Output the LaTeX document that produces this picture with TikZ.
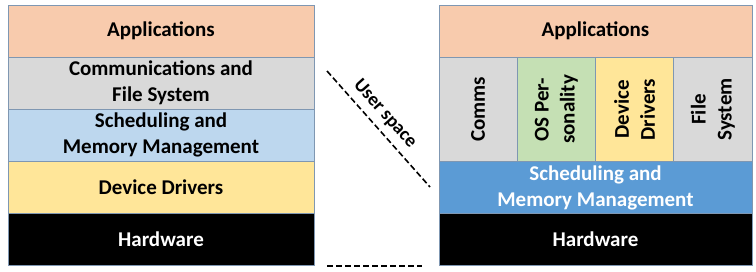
\documentclass[tikz,border=0pt]{standalone}
\usepackage{fontspec}
\setmainfont{Carlito}

\definecolor{edge}{HTML}{7F97B2}
\definecolor{apps}{HTML}{F8CBAD}
\definecolor{comms}{HTML}{D9D9D9}
\definecolor{sched}{HTML}{BDD7EE}
\definecolor{schedk}{HTML}{5B9BD5}
\definecolor{drivers}{HTML}{FFE699}
\definecolor{perso}{HTML}{C5E0B4}

\begin{document}
\begin{tikzpicture}[x=1pt, y=-1pt]
	\tikzstyle{every node}=[inner sep=1pt, align=center, font=\fontsize{21}{26}\selectfont\bfseries]
	\tikzstyle{layer}=[draw=edge, line width=0.8pt, minimum height=52pt]
	\tikzstyle{cell}=[layer, rotate=90, minimum width=105pt, minimum height=78.25pt]
	\tikzstyle{userline}=[dashed, line width=1.6pt, dash pattern=on 6pt off 3pt]
	\useasboundingbox (0,0) rectangle (756,271);

	% monolithic stack
	\node[layer, fill=apps, minimum width=306pt] (appsL) at (161, 31) {Applications};
	\node[layer, fill=comms, minimum width=306pt] (commsL) at (161, 83) {Communications and\\File System};
	\node[layer, fill=sched, minimum width=306pt] (schedL) at (161, 135) {Scheduling and\\Memory Management};
	\node[layer, fill=drivers, minimum width=306pt] (drvL) at (161, 187) {Device Drivers};
	\node[layer, fill=black, text=white, minimum width=306pt] (hwL) at (161, 239) {Hardware};

	% microkernel stack
	\node[layer, fill=apps, minimum width=313pt] (appsR) at (595.5, 31) {Applications};
	\node[cell, fill=comms] (comms) at (478.1, 109.5) {Comms};
	\node[cell, fill=perso] (perso) at (556.4, 109.5) {OS Per-\\sonality};
	\node[cell, fill=drivers] (drv) at (634.6, 109.5) {Device\\Drivers};
	\node[cell, fill=comms] (fs) at (712.9, 109.5) {File\\System};
	\node[layer, fill=schedk, text=white, minimum width=313pt] (schedR) at (595.5, 187.5) {Scheduling and\\Memory Management};
	\node[layer, fill=black, text=white, minimum width=313pt] (hwR) at (595.5, 239.5) {Hardware};

	% user / kernel boundary
	\coordinate (us1) at (327, 71);
	\coordinate (us2) at (430, 187);
	\coordinate (ks1) at (327, 266);
	\coordinate (ks2) at (422, 266);
	\draw[userline] (us1) -- (us2);
	\draw[userline] (ks1) -- (ks2);
	\node[rotate=-48.4, font=\fontsize{19}{23}\selectfont\bfseries] (user) at (385, 114) {User space};
\end{tikzpicture}
\end{document}
